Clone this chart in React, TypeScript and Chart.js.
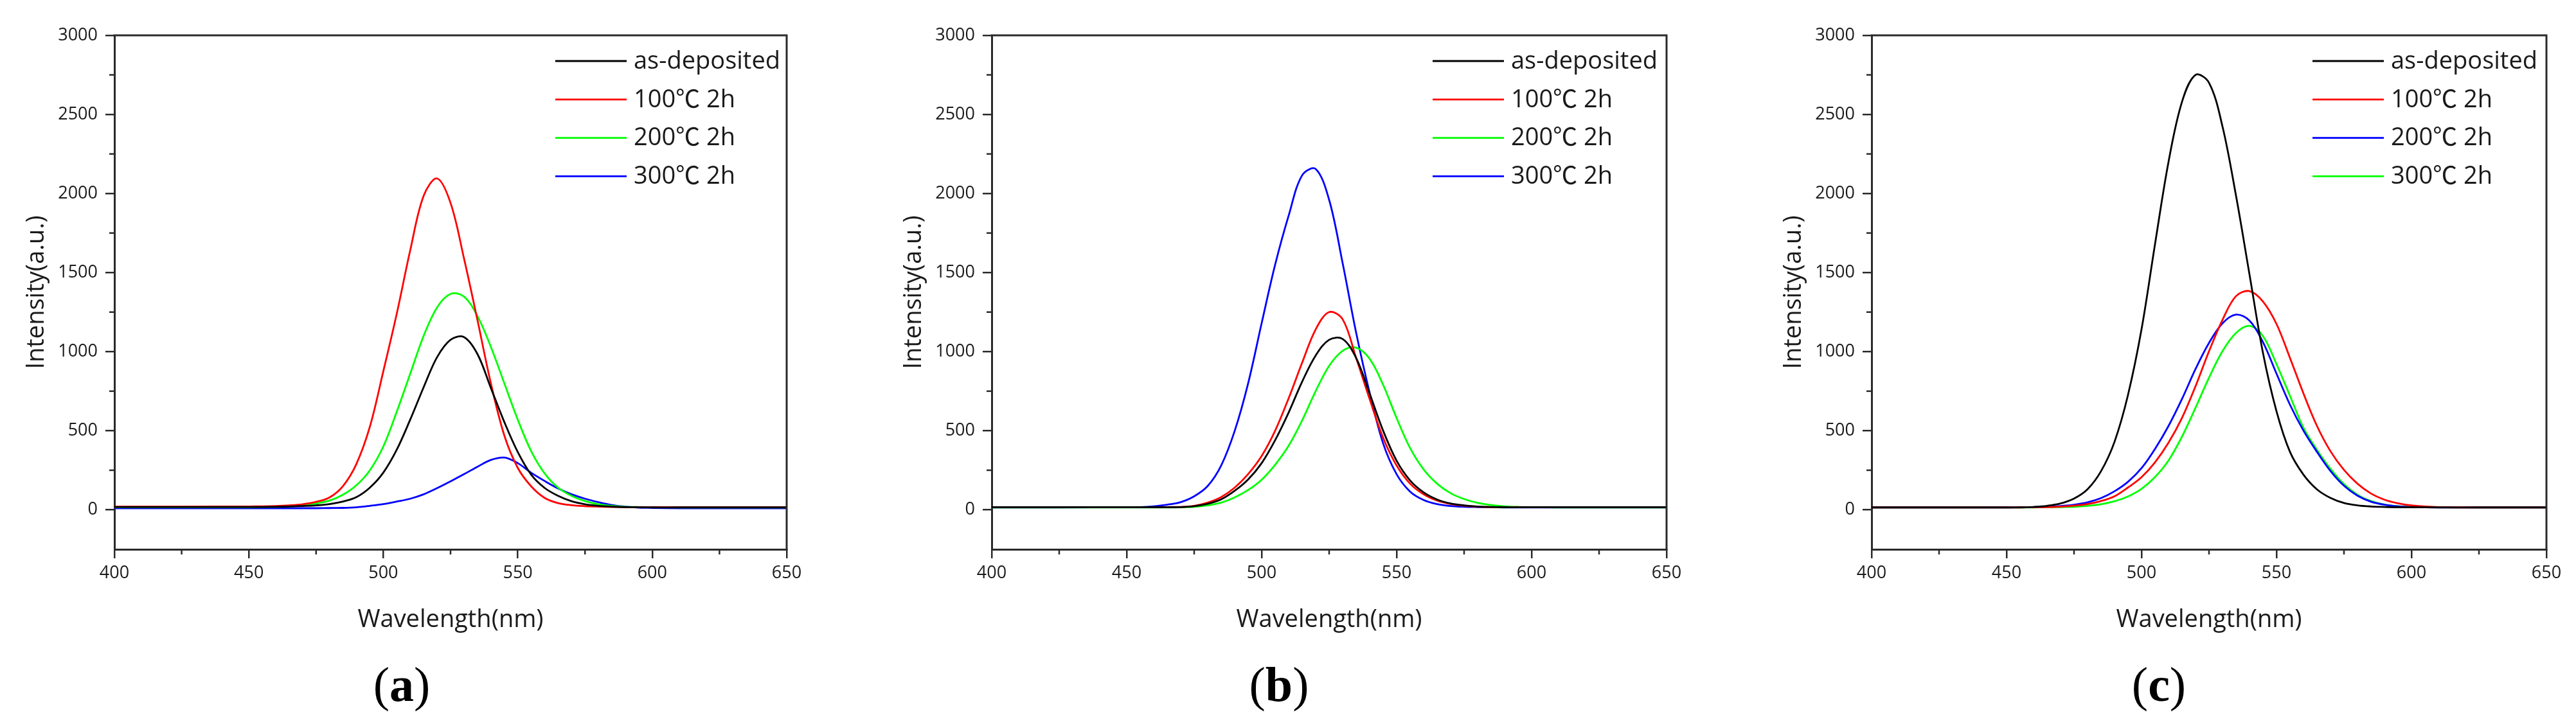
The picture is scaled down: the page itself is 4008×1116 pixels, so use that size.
import React, { useEffect, useRef } from 'react';
import { Chart, registerables } from 'chart.js';

Chart.register(...registerables);

// Shared wavelength grid (nm)
const wavelength = [400, 425, 450, 455, 460, 465, 470, 475, 480, 485, 490, 495, 500, 505, 510, 515, 520, 525, 530, 535, 540, 545, 550, 555, 560, 565, 570, 575, 580, 585, 590, 595, 600, 610, 625, 650];

// Panel (a)
const aAsDeposited = [18, 18, 18, 18, 19, 21, 24, 28, 36, 52, 80, 140, 235, 380, 570, 775, 965, 1075, 1092, 985, 770, 555, 365, 222, 138, 88, 54, 35, 25, 20, 17, 16, 15, 15, 15, 15];
const a100C = [20, 20, 21, 22, 24, 28, 35, 50, 78, 150, 290, 525, 876, 1240, 1640, 1985, 2095, 1940, 1590, 1200, 800, 470, 265, 148, 75, 42, 29, 23, 20, 18, 17, 16, 16, 16, 16, 16];
const a200C = [17, 17, 17, 18, 19, 22, 28, 40, 58, 95, 155, 250, 400, 620, 860, 1100, 1280, 1365, 1348, 1225, 1030, 800, 570, 370, 230, 140, 88, 55, 35, 25, 19, 17, 16, 15, 15, 15];
const a300C = [10, 10, 10, 10, 10, 10, 10, 10, 11, 12, 16, 25, 36, 52, 70, 98, 137, 180, 225, 272, 315, 330, 295, 234, 182, 135, 98, 70, 48, 30, 20, 14, 12, 10, 10, 10];

// Panel (b)
const bAsDeposited = [16, 16, 16, 16, 16, 16, 17, 23, 38, 66, 120, 192, 295, 440, 615, 810, 975, 1075, 1080, 960, 735, 500, 310, 185, 110, 65, 40, 28, 21, 18, 16, 16, 16, 16, 16, 16];
const b100C = [16, 16, 16, 16, 16, 17, 18, 25, 45, 80, 140, 226, 340, 500, 705, 930, 1140, 1250, 1205, 960, 700, 455, 280, 165, 98, 58, 37, 26, 20, 17, 16, 16, 16, 16, 16, 16];
const b200C = [15, 15, 15, 15, 15, 15, 16, 19, 28, 45, 78, 125, 190, 285, 405, 565, 750, 910, 1005, 1025, 955, 790, 580, 390, 255, 165, 105, 68, 44, 30, 22, 18, 16, 15, 15, 15];
const b300C = [15, 15, 16, 17, 22, 32, 48, 85, 150, 280, 498, 800, 1180, 1550, 1860, 2115, 2155, 1960, 1560, 1120, 740, 420, 225, 115, 62, 36, 24, 19, 17, 16, 15, 15, 15, 15, 15, 15];

// Panel (c)
const cAsDeposited = [15, 15, 15, 15, 18, 25, 40, 71, 130, 244, 430, 727, 1141, 1680, 2200, 2580, 2750, 2700, 2423, 1986, 1488, 991, 623, 366, 222, 129, 75, 43, 28, 21, 18, 16, 16, 15, 15, 15];
const c100C = [15, 15, 15, 15, 16, 17, 20, 26, 36, 55, 85, 141, 206, 300, 424, 581, 781, 1002, 1201, 1351, 1383, 1317, 1175, 960, 735, 530, 370, 252, 165, 103, 64, 41, 28, 17, 15, 15];
const c200C = [15, 15, 15, 16, 17, 19, 24, 32, 47, 74, 117, 177, 263, 385, 530, 701, 890, 1055, 1179, 1234, 1196, 1060, 861, 664, 500, 366, 245, 152, 89, 51, 32, 22, 18, 15, 15, 15];
const c300C = [15, 15, 15, 15, 15, 16, 17, 19, 25, 35, 54, 84, 132, 207, 312, 463, 645, 835, 1003, 1118, 1163, 1098, 921, 720, 518, 379, 259, 162, 95, 55, 33, 23, 18, 16, 15, 15];

const labelsAB = ['as-deposited', '100\u2103 2h', '200\u2103 2h', '300\u2103 2h'];
const labelsC = ['as-deposited', '100\u2103 2h', '200\u2103 2h', '300\u2103 2h'];
const colorsAB = ['#000000', '#ff0000', '#00ff00', '#0000ff'];
const colorsC = ['#000000', '#ff0000', '#0000ff', '#00ff00'];

const yTickValues = [0, 500, 1000, 1500, 2000, 2500, 3000];
const xMin = 400;
const xMax = 650;
const xStep = 50;
const yMin = -250;
const yMax = 3000;

const FONT = '"Open Sans", "Noto Sans CJK SC", "DejaVu Sans", sans-serif';
const AXIS_COLOR = '#2a2a2a';
const TEXT_COLOR = '#1a1a1a';

const CANVAS_H = 1000;
const Y_SCALE_W = 178;
const X_SCALE_H = 145;
const TOP_PAD = 55;

type PanelDef = {
  letter: string;
  left: number;
  chartWidth: number;
  rightPad: number;
  labels: string[];
  colors: string[];
  series: number[][];
};

const panels: PanelDef[] = [
  { letter: 'a', left: 0, chartWidth: 1046, rightPad: 100, labels: labelsAB, colors: colorsAB, series: [aAsDeposited, a100C, a200C, a300C] },
  { letter: 'b', left: 1365, chartWidth: 1050, rightPad: 100, labels: labelsAB, colors: colorsAB, series: [bAsDeposited, b100C, b200C, b300C] },
  { letter: 'c', left: 2734, chartWidth: 1050, rightPad: 46, labels: labelsC, colors: colorsC, series: [cAsDeposited, c100C, c200C, c300C] },
];

const framePlugin = {
  id: 'frameMinorLegend',
  afterDraw(chart: any) {
    const { ctx, chartArea: ca, scales } = chart;
    ctx.save();
    ctx.strokeStyle = AXIS_COLOR;
    ctx.lineWidth = 3;
    ctx.beginPath();
    ctx.moveTo(ca.left - 1.5, ca.top);
    ctx.lineTo(ca.right, ca.top);
    ctx.lineTo(ca.right, ca.bottom + 1.5);
    ctx.stroke();

    // minor ticks
    ctx.lineWidth = 2.5;
    const xs = scales.x;
    const xt = xs.ticks.map((t: any) => t.value);
    for (let i = 0; i < xt.length - 1; i++) {
      const px = xs.getPixelForValue((xt[i] + xt[i + 1]) / 2);
      ctx.beginPath();
      ctx.moveTo(px, ca.bottom);
      ctx.lineTo(px, ca.bottom + 8);
      ctx.stroke();
    }
    const ys = scales.y;
    const yt = ys.ticks.map((t: any) => t.value);
    for (let i = 0; i < yt.length - 1; i++) {
      const py = ys.getPixelForValue((yt[i] + yt[i + 1]) / 2);
      ctx.beginPath();
      ctx.moveTo(ca.left, py);
      ctx.lineTo(ca.left - 8, py);
      ctx.stroke();
    }

    // legend
    ctx.font = `38px ${FONT}`;
    ctx.textBaseline = 'middle';
    ctx.textAlign = 'left';
    chart.data.datasets.forEach((ds: any, i: number) => {
      const y = ca.top + 40 + i * 59.8;
      ctx.strokeStyle = ds.borderColor;
      ctx.lineWidth = 2.8;
      ctx.beginPath();
      ctx.moveTo(ca.left + 686, y);
      ctx.lineTo(ca.left + 797, y);
      ctx.stroke();
      ctx.fillStyle = TEXT_COLOR;
      ctx.fillText(ds.label, ca.left + 808, y + 1);
    });
    ctx.restore();
  },
};

function Panel({ def }: { def: PanelDef }) {
  const ref = useRef<HTMLCanvasElement | null>(null);
  const width = Y_SCALE_W + def.chartWidth + def.rightPad;

  useEffect(() => {
    if (!ref.current) return;
    const chart = new Chart(ref.current, {
      type: 'line',
      data: {
        datasets: def.series.map((vals, i) => ({
          label: def.labels[i],
          data: wavelength.map((x, j) => ({ x, y: vals[j] })),
          borderColor: def.colors[i],
          backgroundColor: def.colors[i],
          borderWidth: 2.8,
          pointRadius: 0,
          fill: false,
          tension: 0.35,
          cubicInterpolationMode: 'default' as const,
          borderJoinStyle: 'round' as const,
        })),
      },
      options: {
        animation: false,
        responsive: false,
        devicePixelRatio: 1,
        events: [],
        layout: { padding: { top: TOP_PAD, right: def.rightPad, left: 0, bottom: 0 } },
        plugins: {
          legend: { display: false },
          tooltip: { enabled: false },
          title: { display: false },
        },
        scales: {
          x: {
            type: 'linear',
            min: xMin,
            max: xMax,
            ticks: {
              stepSize: xStep,
              font: { family: FONT, size: 27 },
              color: TEXT_COLOR,
              padding: 7,
              maxRotation: 0,
              autoSkip: false,
              callback: (v: any) => String(v),
            },
            grid: {
              drawOnChartArea: false,
              drawTicks: true,
              tickLength: 14,
              lineWidth: 2.5,
              color: AXIS_COLOR,
              tickColor: AXIS_COLOR,
            },
            border: { display: true, color: AXIS_COLOR, width: 3 },
            title: {
              display: true,
              text: 'Wavelength(nm)',
              font: { family: FONT, size: 38 },
              color: TEXT_COLOR,
              padding: { top: 0, bottom: 12 },
            },
            afterFit: (scale: any) => {
              scale.height = X_SCALE_H;
            },
          },
          y: {
            type: 'linear',
            min: yMin,
            max: yMax,
            afterBuildTicks: (scale: any) => {
              scale.ticks = yTickValues.map((v) => ({ value: v }));
            },
            ticks: {
              font: { family: FONT, size: 27 },
              color: TEXT_COLOR,
              padding: 12,
              autoSkip: false,
              callback: (v: any) => String(v),
            },
            grid: {
              drawOnChartArea: false,
              drawTicks: true,
              tickLength: 14,
              lineWidth: 2.5,
              color: AXIS_COLOR,
              tickColor: AXIS_COLOR,
            },
            border: { display: true, color: AXIS_COLOR, width: 3 },
            title: {
              display: true,
              text: 'Intensity(a.u.)',
              font: { family: FONT, size: 38 },
              color: TEXT_COLOR,
              padding: { top: 34, bottom: 0 },
            },
            afterFit: (scale: any) => {
              scale.width = Y_SCALE_W;
            },
          },
        },
      },
      plugins: [framePlugin],
    } as any);
    return () => chart.destroy();
  }, [def]);

  const labelCenter = def.left + Y_SCALE_W + 447;
  return (
    <>
      <canvas
        ref={ref}
        width={width}
        height={CANVAS_H}
        style={{ position: 'absolute', left: def.left, top: 0, width, height: CANVAS_H }}
      />
      <div
        style={{
          position: 'absolute',
          left: labelCenter - 100,
          top: 1025,
          width: 200,
          height: 80,
          lineHeight: '80px',
          textAlign: 'center',
          fontFamily: '"Liberation Serif", "DejaVu Serif", serif',
          fontSize: 76,
          color: '#000',
        }}
      >
        (<b>{def.letter}</b>)
      </div>
    </>
  );
}

export default function App() {
  return (
    <div
      style={{
        position: 'absolute',
        left: 0,
        top: 0,
        width: 4008,
        height: 1116,
        background: '#ffffff',
        overflow: 'hidden',
      }}
    >
      {panels.map((p) => (
        <Panel key={p.letter} def={p} />
      ))}
    </div>
  );
}
